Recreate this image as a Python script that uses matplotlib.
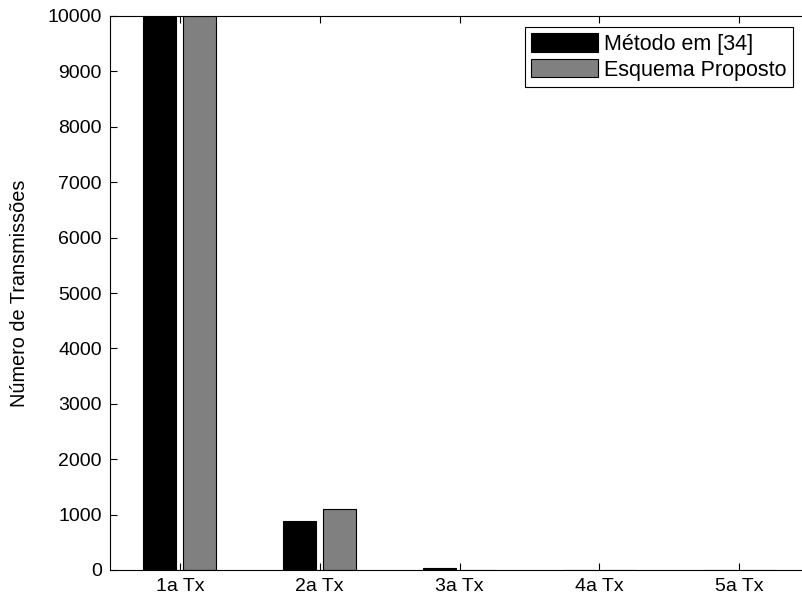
import matplotlib
matplotlib.use("Agg")
import matplotlib.pyplot as plt
import numpy as np

plt.rcParams['font.family'] = ['Liberation Sans', 'DejaVu Sans']

categories = ['1a Tx', '2a Tx', '3a Tx', '4a Tx', '5a Tx']
metodo = [10000, 880, 30, 3, 3]
proposto = [10000, 1105, 5, 5, 3]
series_labels = ['Método em [34]', 'Esquema Proposto']

fig = plt.figure(figsize=(8.02, 6.02), dpi=100)
ax = fig.add_axes([110/802, 32/602, 699/802, 554/602])

x = np.arange(1, len(categories) + 1)
w = 0.236
off = 0.143
ax.bar(x - off, metodo, w, color='black', edgecolor='black', linewidth=0.8, label=series_labels[0])
ax.bar(x + off, proposto, w, color='#808080', edgecolor='black', linewidth=0.8, label=series_labels[1])

ax.set_xlim(0.5, 5.5)
ax.set_ylim(0, 10000)
ax.set_xticks(x)
ax.set_xticklabels(categories)
ax.set_yticks(np.arange(0, 10001, 1000))
ax.tick_params(direction='in', top=True, right=False, labelsize=14, length=5, width=0.8, pad=6)
for s in ax.spines.values():
    s.set_linewidth(0.8)
ax.spines['right'].set_visible(False)
ax.set_ylabel('Número de Transmissões', fontsize=14.3, labelpad=13)

leg = ax.legend(loc='upper left', fontsize=15.5, fancybox=False, edgecolor='black', framealpha=1,
                handlelength=3.1, handleheight=0.92, borderpad=0.3, labelspacing=0.2,
                handletextpad=0.25, borderaxespad=0)
leg.get_frame().set_linewidth(0.8)
leg.set_bbox_to_anchor((525/802, 1 - 27/602), transform=fig.transFigure)

fig.savefig('out.png', dpi=100)
